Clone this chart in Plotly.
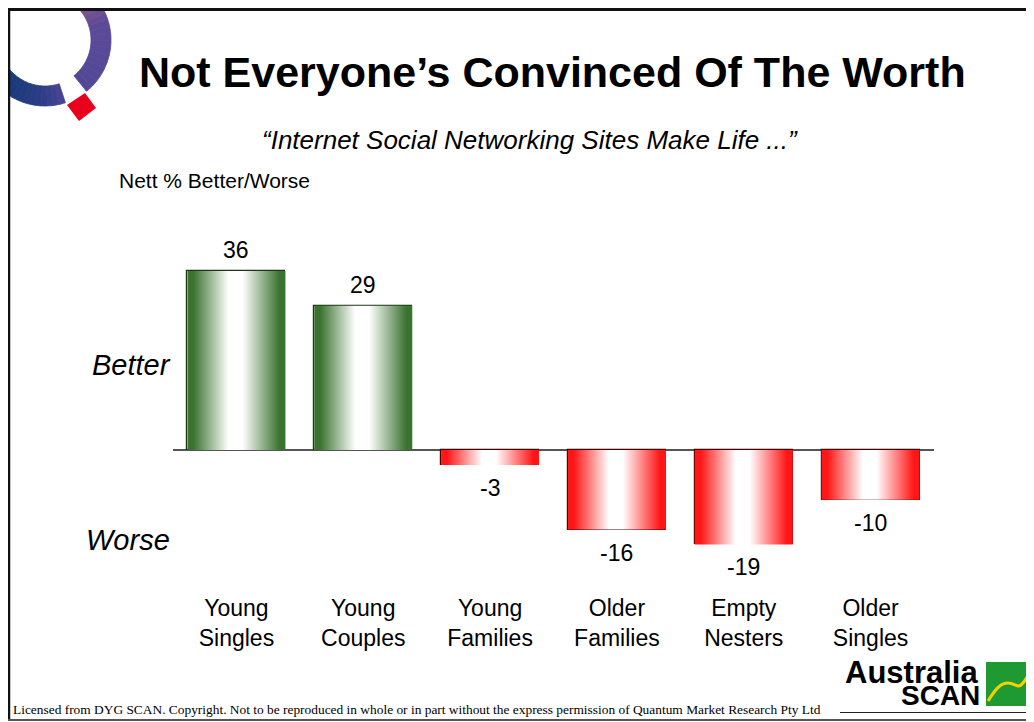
import numpy as np
import plotly.graph_objects as go

# ---------------- data ----------------
categories = ["Young<br>Singles", "Young<br>Couples", "Young<br>Families",
              "Older<br>Families", "Empty<br>Nesters", "Older<br>Singles"]
values = [36, 29, -3, -16, -19, -10]
value_labels = ["36", "29", "-3", "-16", "-19", "-10"]

# ---------------- geometry ----------------
# The page adds an 8px body margin, so the figure is laid out 8px smaller
# and every reference-pixel coordinate is shifted by OFF.
OFF = 8
W, H = 1034 - OFF, 722 - OFF
ML, MR, MT, MB = 173 - OFF, 100, 215 - OFF, 130
PW = W - ML - MR
PH = H - MT - MB
ZERO_PX = 450 - OFF
PXU = 4.97
y_top = (ZERO_PX - MT) / PXU
y_bot = -(H - MB - ZERO_PX) / PXU


def px(x):
    return (x - OFF - ML) / PW


def py(y):
    return 1 - (y - OFF - MT) / PH


def path_from(points, close=True):
    s = "M " + " L ".join(f"{px(x):.5f},{py(y):.5f}" for x, y in points)
    return s + (" Z" if close else "")


BAR_W = 0.773
GREEN = "#3a732f"
RED = "#ff1616"
FONT = "Liberation Sans, Arial, sans-serif"

fig = go.Figure()
xs = list(range(len(values)))

# gradient fills
for i, v in zip(xs, values):
    c = GREEN if v >= 0 else RED
    x0, x1 = i - BAR_W / 2, i + BAR_W / 2
    fig.add_trace(go.Scatter(
        x=[x0, x1, x1, x0, x0], y=[0, 0, v, v, 0],
        mode="lines", fill="toself", line=dict(width=0, color=c),
        fillgradient=dict(type="horizontal",
                          colorscale=[[0, c], [0.06, c], [0.42, "#ffffff"], [0.56, "#ffffff"], [0.94, c], [1, c]]),
        hoverinfo="skip", showlegend=False))

# outlines
outline_cols = ["#1e3618" if v >= 0 else "#4a0000" for v in values]
fig.add_trace(go.Bar(
    x=xs, y=values, width=BAR_W,
    marker=dict(color="rgba(0,0,0,0)", line=dict(color=outline_cols, width=1.2)),
    hoverinfo="skip", showlegend=False))

annotations = []
for i, v, t in zip(xs, values, value_labels):
    annotations.append(dict(x=i, y=v, xref="x", yref="y", text=t, showarrow=False,
                            yshift=21 if v >= 0 else -23,
                            font=dict(size=23, color="black", family=FONT)))

annotations += [
    dict(x=px(552), y=py(72), xref="paper", yref="paper", text="<b>Not Everyone’s Convinced Of The Worth</b>",
         showarrow=False, xanchor="center", yanchor="middle", font=dict(size=43, color="black", family=FONT)),
    dict(x=px(530), y=py(140), xref="paper", yref="paper",
         text="<i>“Internet Social Networking Sites Make Life ...”</i>",
         showarrow=False, xanchor="center", yanchor="middle", font=dict(size=26, color="black", family=FONT)),
    dict(x=px(117), y=py(180), xref="paper", yref="paper", text="Nett % Better/Worse",
         showarrow=False, xanchor="left", yanchor="middle", font=dict(size=21, color="black", family=FONT)),
    dict(x=px(173), y=py(365), xref="paper", yref="paper", text="<i>Better</i>",
         showarrow=False, xanchor="right", yanchor="middle", font=dict(size=29, color="black", family=FONT)),
    dict(x=px(172), y=py(540), xref="paper", yref="paper", text="<i>Worse</i>",
         showarrow=False, xanchor="right", yanchor="middle", font=dict(size=29, color="black", family=FONT)),
    dict(x=px(11), y=py(709), xref="paper", yref="paper",
         text="Licensed from DYG SCAN. Copyright. Not to be reproduced in whole or in part without the express permission of Quantum Market Research Pty Ltd",
         showarrow=False, xanchor="left", yanchor="middle",
         font=dict(size=13.4, color="black", family="Liberation Serif, Times New Roman, serif")),
    dict(x=px(980), y=py(672), xref="paper", yref="paper", text="<b>Australia</b>",
         showarrow=False, xanchor="right", yanchor="middle", font=dict(size=31, color="black", family=FONT)),
    dict(x=px(982), y=py(695), xref="paper", yref="paper", text="<b>SCAN</b>",
         showarrow=False, xanchor="right", yanchor="middle", font=dict(size=28, color="black", family=FONT)),
]

# ---------------- decorations ----------------
shapes = []

# Q-ring logo
CX, CY, RO, RI = 45, 40, 66, 46


def hex2rgb(h):
    h = h.lstrip("#")
    return np.array([int(h[k:k + 2], 16) for k in (0, 2, 4)], dtype=float)


def color_at(a, stops):
    angs = [s[0] for s in stops]
    cols = [hex2rgb(s[1]) for s in stops]
    for k in range(len(stops) - 1):
        a0, a1 = angs[k], angs[k + 1]
        if min(a0, a1) <= a <= max(a0, a1):
            t = (a - a0) / (a1 - a0)
            c = cols[k] * (1 - t) + cols[k + 1] * t
            return "rgb(%d,%d,%d)" % tuple(c)
    return "rgb(%d,%d,%d)" % tuple(cols[-1])


def ring_part(a_start, a_end, stops, n=24):
    edges = np.linspace(a_start, a_end, n + 1)
    for k in range(n):
        a0, a1 = edges[k], edges[k + 1]
        am = (a0 + a1) / 2
        sub = np.linspace(a0, a1, 4)
        pts = [(CX + RO * np.cos(np.radians(a)), CY + RO * np.sin(np.radians(a))) for a in sub]
        pts += [(CX + RI * np.cos(np.radians(a)), CY + RI * np.sin(np.radians(a))) for a in sub[::-1]]
        col = color_at(am, stops)
        shapes.append(dict(type="path", xref="paper", yref="paper", path=path_from(pts),
                           fillcolor=col, line=dict(color=col, width=0.8), layer="above"))


bottom_stops = [(200, "#163570"), (130, "#1b3a7a"), (95, "#2a3d85"), (72, "#4a4694")]
right_stops = [(51, "#514895"), (20, "#574a99"), (-15, "#5c4a98"), (-40, "#80548f"), (-60, "#a65a7c"), (-100, "#b05a78")]
ring_part(200, 72, bottom_stops)
ring_part(51, -100, right_stops)

# red diamond
shapes.append(dict(type="path", xref="paper", yref="paper",
                   path=path_from([(85, 93), (96, 108), (79, 121), (67, 105)]),
                   fillcolor="#e8001c", line=dict(width=0), layer="above"))

# white masks outside frame
shapes.append(dict(type="rect", xref="paper", yref="paper", x0=px(0), x1=px(9), y0=py(0), y1=py(140),
                   fillcolor="white", line=dict(width=0), layer="above"))
shapes.append(dict(type="rect", xref="paper", yref="paper", x0=px(0), x1=px(150), y0=py(0), y1=py(9),
                   fillcolor="white", line=dict(width=0), layer="above"))

# frame lines
shapes.append(dict(type="line", xref="paper", yref="paper", x0=px(9), x1=px(9), y0=py(8), y1=py(720),
                   line=dict(color="#111", width=2.5), layer="above"))
shapes.append(dict(type="line", xref="paper", yref="paper", x0=px(8), x1=px(1034), y0=py(9.5), y1=py(9.5),
                   line=dict(color="#111", width=3), layer="above"))
shapes.append(dict(type="line", xref="paper", yref="paper", x0=px(8), x1=px(1034), y0=py(720), y1=py(720),
                   line=dict(color="#555", width=2), layer="above"))

# AustraliaSCAN logo
shapes.append(dict(type="rect", xref="paper", yref="paper", x0=px(986), x1=px(1032), y0=py(706), y1=py(662),
                   fillcolor="#1f9a33", line=dict(width=0), layer="above"))
curve = (f"M {px(988):.5f},{py(701):.5f} C {px(995):.5f},{py(690):.5f} {px(1000):.5f},{py(683):.5f} {px(1008):.5f},{py(683):.5f} "
         f"C {px(1015):.5f},{py(683):.5f} {px(1018):.5f},{py(689):.5f} {px(1022):.5f},{py(684):.5f} "
         f"C {px(1027):.5f},{py(679):.5f} {px(1030):.5f},{py(672):.5f} {px(1032):.5f},{py(666):.5f}")
shapes.append(dict(type="path", xref="paper", yref="paper", path=curve,
                   line=dict(color="#f2d200", width=3), layer="above"))
shapes.append(dict(type="line", xref="paper", yref="paper", x0=px(840), x1=px(1032), y0=py(712.5), y1=py(712.5),
                   line=dict(color="#222", width=1), layer="above"))

fig.update_layout(
    width=W, height=H,
    margin=dict(l=ML, r=MR, t=MT, b=MB),
    paper_bgcolor="white", plot_bgcolor="white",
    font=dict(family=FONT, color="black"),
    showlegend=False,
    bargap=0,
    xaxis=dict(range=[-0.5, len(values) - 0.5], tickmode="array", tickvals=xs, ticktext=categories,
               tickfont=dict(size=23, color="black", family=FONT), showgrid=False, zeroline=False,
               showline=False, ticks="", fixedrange=True),
    yaxis=dict(range=[y_bot, y_top], showticklabels=False, showgrid=False, zeroline=True,
               zerolinecolor="#555", zerolinewidth=1.5, showline=False, ticks="", fixedrange=True),
    annotations=annotations,
    shapes=shapes,
)

fig.write_html("out.html")
